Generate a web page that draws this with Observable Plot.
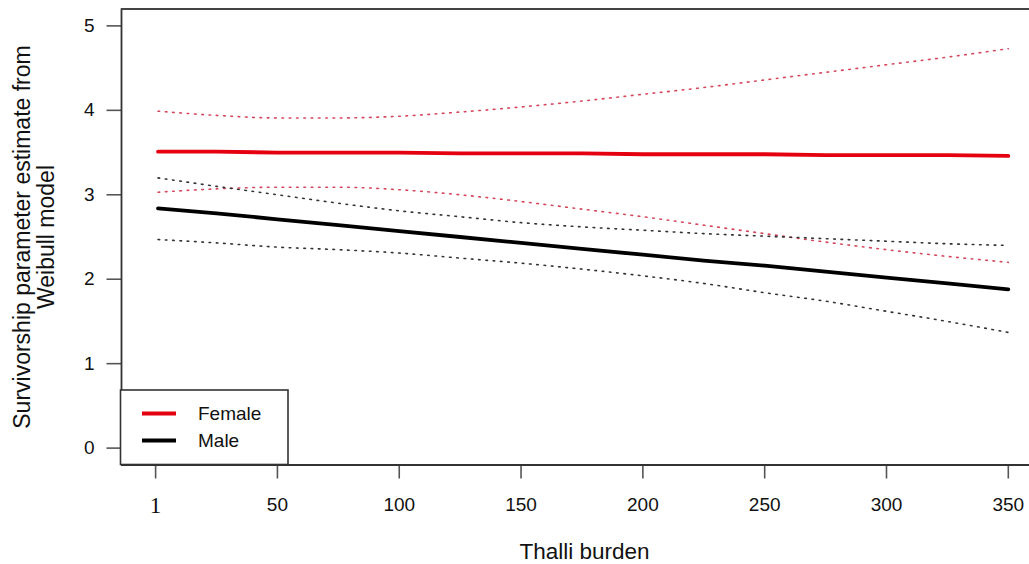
<!DOCTYPE html>
<html>
<head>
<meta charset="utf-8">
<script src="https://cdn.jsdelivr.net/npm/d3@7"></script>
<script src="https://cdn.jsdelivr.net/npm/@observablehq/plot@0.6"></script>
<style>
  html, body { margin: 0; padding: 0; background: white; overflow: hidden; }
</style>
</head>
<body>
<div id="chart"></div>
<script>
// ---- data ----
const burden = [1, 25, 50, 75, 100, 125, 150, 175, 200, 225, 250, 275, 300, 325, 350];
const femaleFit   = [3.51, 3.51, 3.50, 3.50, 3.50, 3.49, 3.49, 3.49, 3.48, 3.48, 3.48, 3.47, 3.47, 3.47, 3.46];
const femaleUpper = [3.99, 3.94, 3.91, 3.91, 3.93, 3.98, 4.04, 4.11, 4.19, 4.27, 4.36, 4.45, 4.54, 4.63, 4.73];
const femaleLower = [3.03, 3.07, 3.09, 3.09, 3.06, 3.00, 2.92, 2.83, 2.74, 2.64, 2.54, 2.44, 2.35, 2.27, 2.20];
const maleFit     = [2.84, 2.78, 2.71, 2.64, 2.57, 2.50, 2.43, 2.36, 2.29, 2.22, 2.16, 2.09, 2.02, 1.95, 1.88];
const maleUpper   = [3.20, 3.10, 3.00, 2.90, 2.81, 2.74, 2.67, 2.62, 2.58, 2.54, 2.51, 2.48, 2.45, 2.42, 2.40];
const maleLower   = [2.47, 2.43, 2.38, 2.35, 2.31, 2.25, 2.19, 2.12, 2.04, 1.95, 1.84, 1.74, 1.62, 1.50, 1.37];

const xTicks      = [0, 50, 100, 150, 200, 250, 300, 350];
const xTickLabels = ["1", "50", "100", "150", "200", "250", "300", "350"];
const yTicks      = [0, 1, 2, 3, 4, 5];
const legendLabels = ["Female", "Male"];
const xDomain = [-14, 358.7];
const yDomain = [-0.2, 5.2];

// ---- build tables ----
const mk = (series, vals) => burden.map((b, i) => ({burden: b, value: vals[i], series}));
const fits = [...mk("Female", femaleFit), ...mk("Male", maleFit)];
const femaleCI = [...mk("FU", femaleUpper), ...mk("FL", femaleLower)];
const maleCI = [...mk("MU", maleUpper), ...mk("ML", maleLower)];
const xLabelRows = xTicks.map((t, i) => ({t, label: xTickLabels[i], serif: i === 0}));

const dots = "1.6 5.7";
const font = "'Liberation Sans', Arial, Helvetica, sans-serif";
const serif = "'Liberation Serif', 'Times New Roman', serif";

const plot = Plot.plot({
  width: 1029,
  height: 564,
  marginLeft: 121,
  marginRight: 0,
  marginTop: 8.5,
  marginBottom: 99.5,
  style: {fontFamily: font, fontSize: "19px", background: "white", color: "#111"},
  x: {domain: xDomain, axis: null},
  y: {domain: yDomain, axis: null},
  marks: [
    Plot.axisY({ticks: yTicks, tickFormat: () => "", tickSize: 14.5, stroke: "#555", strokeWidth: 1.6, label: null}),
    Plot.axisX({ticks: xTicks, tickFormat: () => "", tickSize: 14, stroke: "#555", strokeWidth: 1.6, label: null}),
    Plot.text(yTicks, {x: xDomain[0], y: d => d, text: d => String(d), dx: -27, textAnchor: "end", fontSize: 19, fill: "#111"}),
    Plot.text(xLabelRows.filter(d => !d.serif), {x: "t", y: yDomain[0], text: "label", dy: 40, lineAnchor: "middle", fontSize: 19, fill: "#111"}),
    Plot.text(xLabelRows.filter(d => d.serif), {x: "t", y: yDomain[0], text: "label", dy: 41, lineAnchor: "middle", fontSize: 23, fontFamily: serif, fill: "#111"}),
    Plot.ruleX([xDomain[0]], {stroke: "#333", strokeWidth: 1.8}),
    Plot.ruleY([yDomain[1]], {stroke: "#444", strokeWidth: 1.8}),
    Plot.ruleY([yDomain[0]], {stroke: "#333", strokeWidth: 1.8}),
    Plot.line(femaleCI, {x: "burden", y: "value", z: "series", stroke: "#d2334a", strokeWidth: 1.6, strokeDasharray: dots, strokeOpacity: 0.9, curve: "monotone-x"}),
    Plot.line(maleCI, {x: "burden", y: "value", z: "series", stroke: "#333", strokeWidth: 1.6, strokeDasharray: dots, curve: "monotone-x"}),
    Plot.line(fits, {x: "burden", y: "value", z: "series", stroke: d => d.series === "Female" ? "#e4000f" : "#000", strokeWidth: 3.8}),
    Plot.text(["Survivorship parameter estimate from\nWeibull model"], {frameAnchor: "left", dx: -87, rotate: -90, fontSize: 23, lineHeight: 1.02, textAnchor: "middle", lineAnchor: "middle", fill: "#111"}),
    Plot.text(["Thalli burden"], {frameAnchor: "bottom", dx: 9, dy: 87, fontSize: 22.5, lineAnchor: "middle", fill: "#111"})
  ]
});

document.getElementById("chart").appendChild(plot);

// ---- legend box ----
const svg = d3.select(plot);
const lg = svg.append("g").attr("text-anchor", "start");
lg.append("rect").attr("x", 120.5).attr("y", 390).attr("width", 167.5).attr("height", 74.5)
  .attr("fill", "white").attr("stroke", "#333").attr("stroke-width", 1.6);
const legendColors = ["#e4000f", "#000"];
legendLabels.forEach((lab, i) => {
  const yy = 413.5 + i * 27;
  lg.append("line").attr("x1", 142).attr("x2", 176).attr("y1", yy).attr("y2", yy)
    .attr("stroke", legendColors[i]).attr("stroke-width", 3.8);
  lg.append("text").attr("x", 198).attr("y", yy).attr("dy", "0.36em")
    .attr("text-anchor", "start")
    .attr("font-size", 19).attr("font-family", font).attr("fill", "#111").text(lab);
});
</script>
</body>
</html>
